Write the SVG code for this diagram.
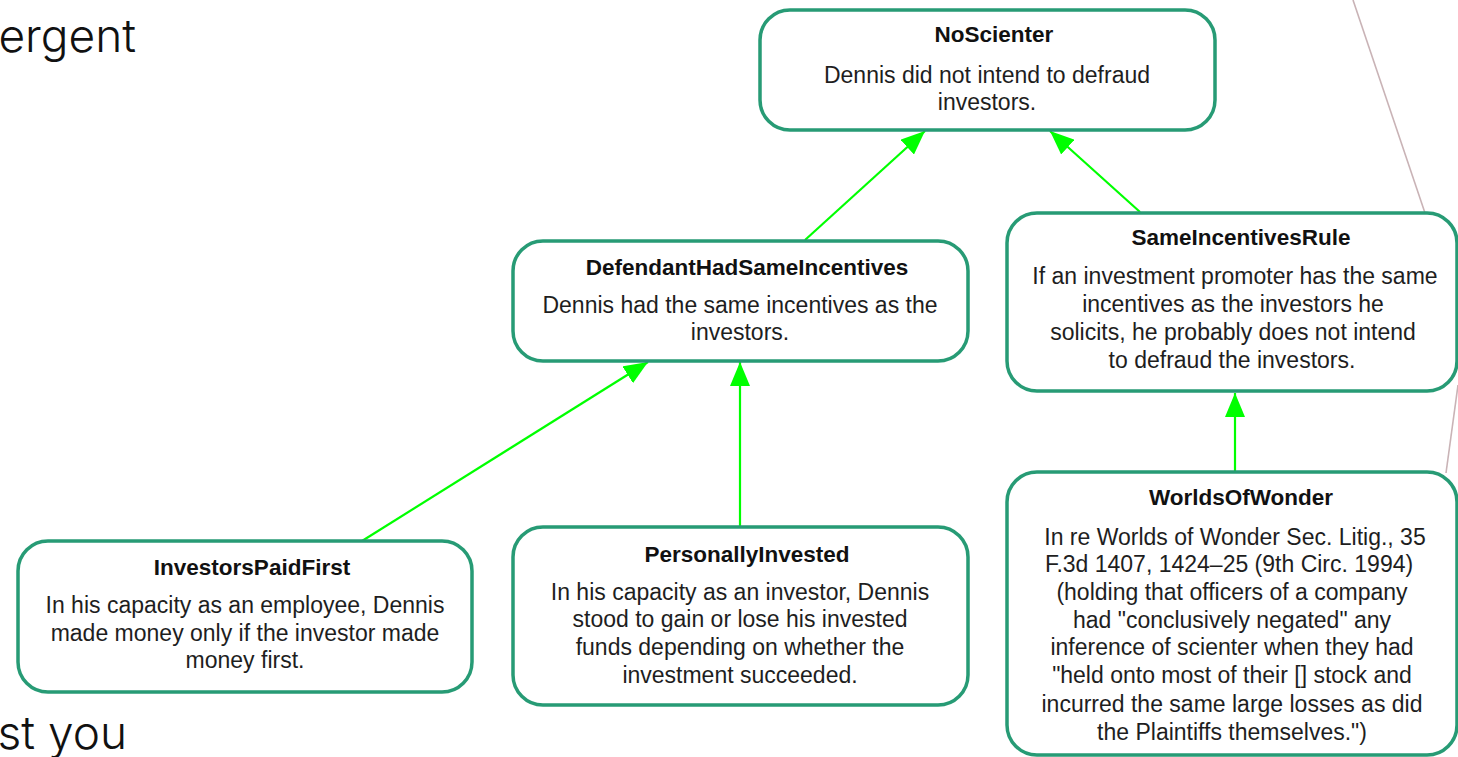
<svg xmlns="http://www.w3.org/2000/svg" width="1458" height="757" viewBox="0 0 1458 757">
<style>
.box{fill:#fff;stroke:#279b75;stroke-width:3.5}
.t{font-family:"Liberation Sans",Arial,sans-serif;font-size:22.5px;font-weight:bold;fill:#111;text-anchor:middle}
.b{font-family:"Liberation Sans",Arial,sans-serif;font-size:23px;fill:#1e1e1e;text-anchor:middle}
.e{stroke:#00ff00;stroke-width:2.2;fill:none;marker-end:url(#ah)}
.m{stroke:#c9b3b6;stroke-width:1.6;fill:none}
.bg{font-family:Inter,"Open Sans",sans-serif;font-weight:300;font-size:46px;fill:#111}
</style>
<defs>
<marker id="ah" markerUnits="userSpaceOnUse" markerWidth="24" markerHeight="20" refX="24" refY="10" orient="auto">
<path d="M0,0 L24,10 L0,20 z" fill="#00ff00"/>
</marker>
</defs>
<rect width="1458" height="757" fill="#fff"/>
<text class="bg" x="136" y="52" text-anchor="end">ergent</text>
<text class="bg" x="127" y="749" text-anchor="end">st you</text>
<g id="connectors">
<line class="m" x1="1353" y1="0" x2="1425" y2="213"/>
<line class="m" x1="1446" y1="473" x2="1458" y2="385"/>
<line class="e" x1="805" y1="240" x2="925" y2="131"/>
<line class="e" x1="1140" y1="212" x2="1050" y2="131"/>
<line class="e" x1="362" y1="541" x2="648" y2="362"/>
<line class="e" x1="740" y1="526" x2="740" y2="362"/>
<line class="e" x1="1235" y1="472" x2="1235" y2="393"/>
</g>
<g id="NoScienter">
<rect class="box" x="760" y="10" width="455" height="120" rx="30"/>
<text class="t" x="994" y="42">NoScienter</text>
<text class="b" x="987" y="83">Dennis did not intend to defraud</text>
<text class="b" x="987" y="110">investors.</text>
</g>
<g id="DefendantHadSameIncentives">
<rect class="box" x="513" y="241" width="455" height="120" rx="30"/>
<text class="t" x="747" y="275">DefendantHadSameIncentives</text>
<text class="b" x="740" y="313">Dennis had the same incentives as the</text>
<text class="b" x="740" y="340">investors.</text>
</g>
<g id="SameIncentivesRule">
<rect class="box" x="1007" y="213" width="450" height="178" rx="30"/>
<text class="t" x="1241" y="245">SameIncentivesRule</text>
<text class="b" x="1235" y="284">If an investment promoter has the same</text>
<text class="b" x="1233" y="312">incentives as the investors he</text>
<text class="b" x="1233" y="340">solicits, he probably does not intend</text>
<text class="b" x="1232" y="368">to defraud the investors.</text>
</g>
<g id="WorldsOfWonder">
<rect class="box" x="1007" y="472" width="450" height="283" rx="30"/>
<text class="t" x="1241" y="505">WorldsOfWonder</text>
<text class="b" x="1235" y="545">In re Worlds of Wonder Sec. Litig., 35</text>
<text class="b" x="1229" y="572">F.3d 1407, 1424–25 (9th Circ. 1994)</text>
<text class="b" x="1232" y="600">(holding that officers of a company</text>
<text class="b" x="1232" y="628">had "conclusively negated" any</text>
<text class="b" x="1232" y="655">inference of scienter when they had</text>
<text class="b" x="1232" y="683">"held onto most of their [] stock and</text>
<text class="b" x="1232" y="712">incurred the same large losses as did</text>
<text class="b" x="1232" y="740">the Plaintiffs themselves.")</text>
</g>
<g id="InvestorsPaidFirst">
<rect class="box" x="18" y="541" width="454" height="151" rx="30"/>
<text class="t" x="252" y="575">InvestorsPaidFirst</text>
<text class="b" x="245" y="613">In his capacity as an employee, Dennis</text>
<text class="b" x="245" y="641">made money only if the investor made</text>
<text class="b" x="245" y="668">money first.</text>
</g>
<g id="PersonallyInvested">
<rect class="box" x="513" y="527" width="455" height="178" rx="30"/>
<text class="t" x="747" y="562">PersonallyInvested</text>
<text class="b" x="740" y="600">In his capacity as an investor, Dennis</text>
<text class="b" x="740" y="627">stood to gain or lose his invested</text>
<text class="b" x="740" y="655">funds depending on whether the</text>
<text class="b" x="740" y="683">investment succeeded.</text>
</g>
</svg>
